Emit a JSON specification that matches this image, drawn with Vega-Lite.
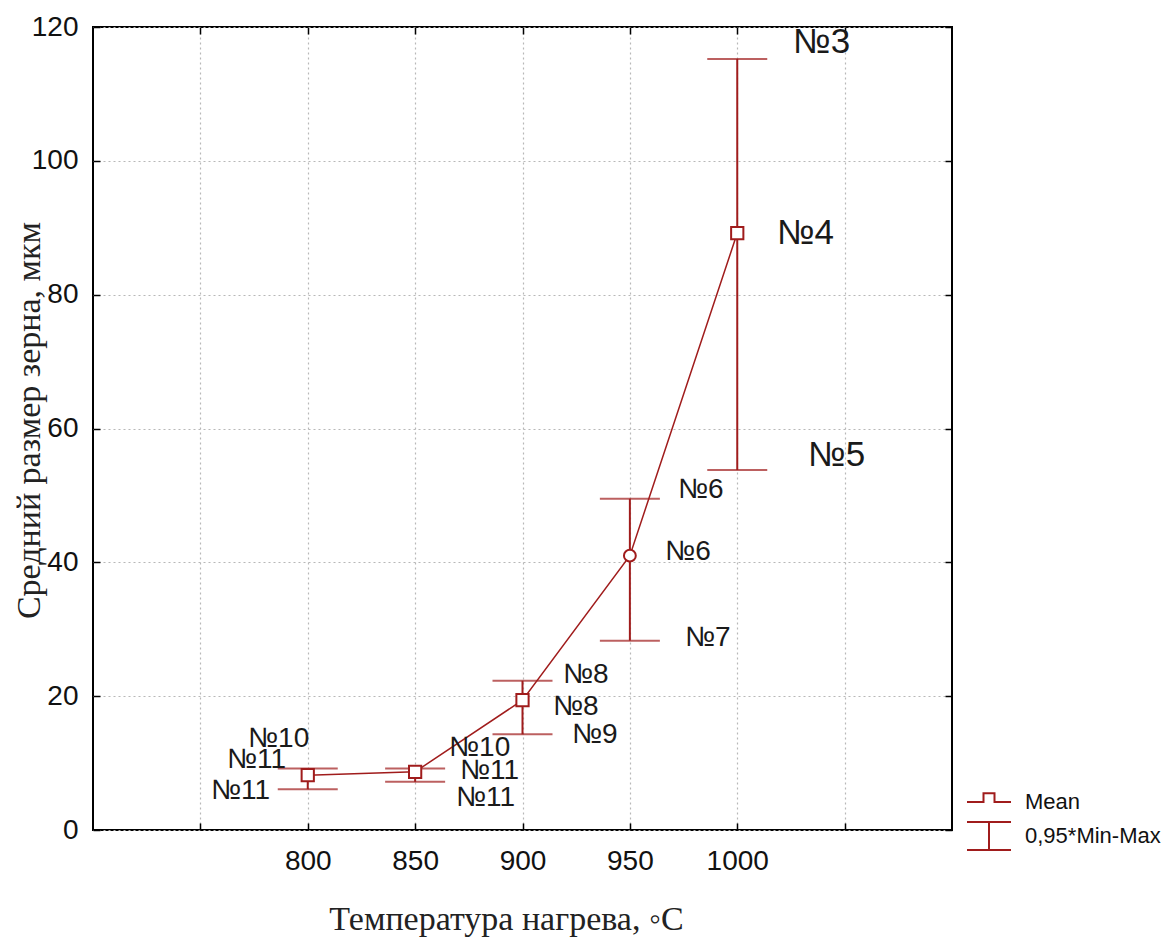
{
  "$schema": "https://vega.github.io/schema/vega-lite/v6.json",
  "autosize": "none",
  "width": 859,
  "height": 803,
  "padding": {"left": 93, "top": 27, "right": 217, "bottom": 107},
  "background": "#ffffff",
  "config": {
    "view": {"stroke": "#000000", "strokeWidth": 2},
    "font": "Liberation Sans"
  },
  "datasets": {
    "grain": [
      {"t": 800, "mean": 8.2, "lo": 6.1, "hi": 9.2},
      {"t": 850, "mean": 8.7, "lo": 7.2, "hi": 9.2},
      {"t": 900, "mean": 19.4, "lo": 14.3, "hi": 22.3},
      {"t": 950, "mean": 41.0, "lo": 28.3, "hi": 49.5},
      {"t": 1000, "mean": 89.2, "lo": 53.8, "hi": 115.2}
    ],
    "notes": [
      {"t": 1000, "x": 1026, "y": 117.8, "text": "№3"},
      {"t": 1000, "x": 1018.5, "y": 89.2, "text": "№4"},
      {"t": 1000, "x": 1033, "y": 56.0, "text": "№5"},
      {"t": 950, "x": 972.4, "y": 50.8, "text": "№6"},
      {"t": 950, "x": 966.4, "y": 41.6, "text": "№6"},
      {"t": 950, "x": 975.7, "y": 28.7, "text": "№7"},
      {"t": 900, "x": 918.9, "y": 23.2, "text": "№8"},
      {"t": 900, "x": 914.2, "y": 18.4, "text": "№8"},
      {"t": 900, "x": 923.0, "y": 14.2, "text": "№9"},
      {"t": 800, "x": 772.2, "y": 13.6, "text": "№10"},
      {"t": 800, "x": 762.4, "y": 10.5, "text": "№11"},
      {"t": 800, "x": 754.9, "y": 5.8, "text": "№11"},
      {"t": 850, "x": 865.8, "y": 12.3, "text": "№10"},
      {"t": 850, "x": 870.9, "y": 8.8, "text": "№11"},
      {"t": 850, "x": 869.0, "y": 4.8, "text": "№11"}
    ],
    "keys": [
      {"kind": "Mean"},
      {"kind": "0,95*Min-Max"}
    ]
  },
  "resolve": {"axis": {"x": "independent", "y": "independent"}},
  "layer": [
    {
      "data": {"name": "grain"},
      "mark": {"type": "rule", "color": "#a01c1c", "strokeWidth": 2},
      "encoding": {
        "x": {
          "field": "t", "type": "quantitative",
          "scale": {"domain": [700, 1100], "nice": false, "zero": false},
          "axis": {
            "orient": "top", "values": [750, 800, 850, 900, 950, 1000, 1050],
            "labels": false, "grid": false, "domain": false, "title": null,
            "tickSize": -7, "tickColor": "#000000", "tickWidth": 1.5
          }
        },
        "y": {
          "field": "lo", "type": "quantitative",
          "scale": {"domain": [0, 120], "nice": false},
          "axis": {
            "orient": "right", "values": [0, 20, 40, 60, 80, 100, 120],
            "labels": false, "grid": false, "domain": false, "title": null,
            "tickSize": -7, "tickColor": "#000000", "tickWidth": 1.5
          }
        },
        "y2": {"field": "hi"}
      }
    },
    {
      "data": {"name": "grain"},
      "mark": {"type": "tick", "orient": "horizontal", "color": "#a01c1c", "size": 60, "thickness": 2},
      "encoding": {
        "x": {"field": "t", "type": "quantitative", "axis": null},
        "y": {"field": "lo", "type": "quantitative", "axis": null}
      }
    },
    {
      "data": {"name": "grain"},
      "mark": {"type": "tick", "orient": "horizontal", "color": "#a01c1c", "size": 60, "thickness": 2},
      "encoding": {
        "x": {"field": "t", "type": "quantitative", "axis": null},
        "y": {"field": "hi", "type": "quantitative", "axis": null}
      }
    },
    {
      "data": {"name": "grain"},
      "mark": {"type": "line", "color": "#a01c1c", "strokeWidth": 1.5},
      "encoding": {
        "x": {
          "field": "t", "type": "quantitative",
          "axis": {
            "orient": "bottom", "values": [750, 800, 850, 900, 950, 1000, 1050],
            "format": "d",
            "labelExpr": "datum.value >= 800 && datum.value <= 1000 ? datum.label : ''",
            "grid": true, "gridColor": "#b8b8b8", "gridDash": [2, 3], "gridWidth": 1.2,
            "domain": false, "tickSize": -7, "tickColor": "#000000", "tickWidth": 1.5,
            "labelFont": "Liberation Sans", "labelFontSize": 28, "labelColor": "#111111",
            "labelPadding": 24,
            "title": "Температура нагрева, ◦С",
            "titleFont": "Liberation Serif", "titleFontSize": 34, "titleFontWeight": "normal",
            "titleColor": "#222222", "titleX": 413, "titleY": 89, "titleBaseline": "middle"
          }
        },
        "y": {
          "field": "mean", "type": "quantitative",
          "axis": {
            "orient": "left", "values": [0, 20, 40, 60, 80, 100, 120],
            "grid": true, "gridColor": "#b8b8b8", "gridDash": [2, 3], "gridWidth": 1.2,
            "domain": false, "tickSize": -7, "tickColor": "#000000", "tickWidth": 1.5,
            "labelFont": "Liberation Sans", "labelFontSize": 28, "labelColor": "#111111",
            "labelPadding": 22,
            "title": "Средний размер зерна, мкм",
            "titleFont": "Liberation Serif", "titleFontSize": 34, "titleFontWeight": "normal",
            "titleColor": "#222222", "titleX": -64, "titleY": 393, "titleBaseline": "middle"
          }
        }
      }
    },
    {
      "data": {"name": "grain"},
      "mark": {"type": "point", "filled": true, "fill": "#ffffff", "stroke": "#a01c1c", "strokeWidth": 2, "opacity": 1},
      "encoding": {
        "x": {"field": "t", "type": "quantitative", "axis": null},
        "y": {"field": "mean", "type": "quantitative", "axis": null},
        "shape": {"condition": {"test": "datum.t == 950", "value": "circle"}, "value": "square"},
        "size": {"condition": {"test": "datum.t == 950", "value": 140}, "value": 150}
      }
    },
    {
      "data": {"name": "notes"},
      "mark": {"type": "text", "align": "left", "baseline": "middle", "font": "Liberation Sans", "color": "#1a1a1a"},
      "encoding": {
        "x": {"field": "x", "type": "quantitative", "axis": null},
        "y": {"field": "y", "type": "quantitative", "axis": null},
        "text": {"field": "text"},
        "size": {"condition": {"test": "datum.t == 1000", "value": 35}, "value": 28}
      }
    },
    {
      "data": {"name": "keys"},
      "mark": {"type": "point", "filled": false, "opacity": 0},
      "encoding": {
        "shape": {
          "field": "kind", "type": "nominal",
          "scale": {
            "domain": ["Mean", "0,95*Min-Max"],
            "range": ["M-1,0H-0.25V-0.4H0.25V0H1", "M-1,-0.64H1M0,-0.64V0.64M-1,0.64H1"]
          },
          "legend": {
            "orient": "none", "legendX": 873, "legendY": 752,
            "title": null,
            "symbolSize": 1936, "symbolStrokeColor": "#a01c1c", "symbolFillColor": "transparent",
            "symbolStrokeWidth": 2, "symbolOpacity": 1,
            "labelFont": "Liberation Sans", "labelFontSize": 22, "labelColor": "#111111",
            "labelOffset": 13, "rowPadding": -6
          }
        }
      }
    }
  ]
}
